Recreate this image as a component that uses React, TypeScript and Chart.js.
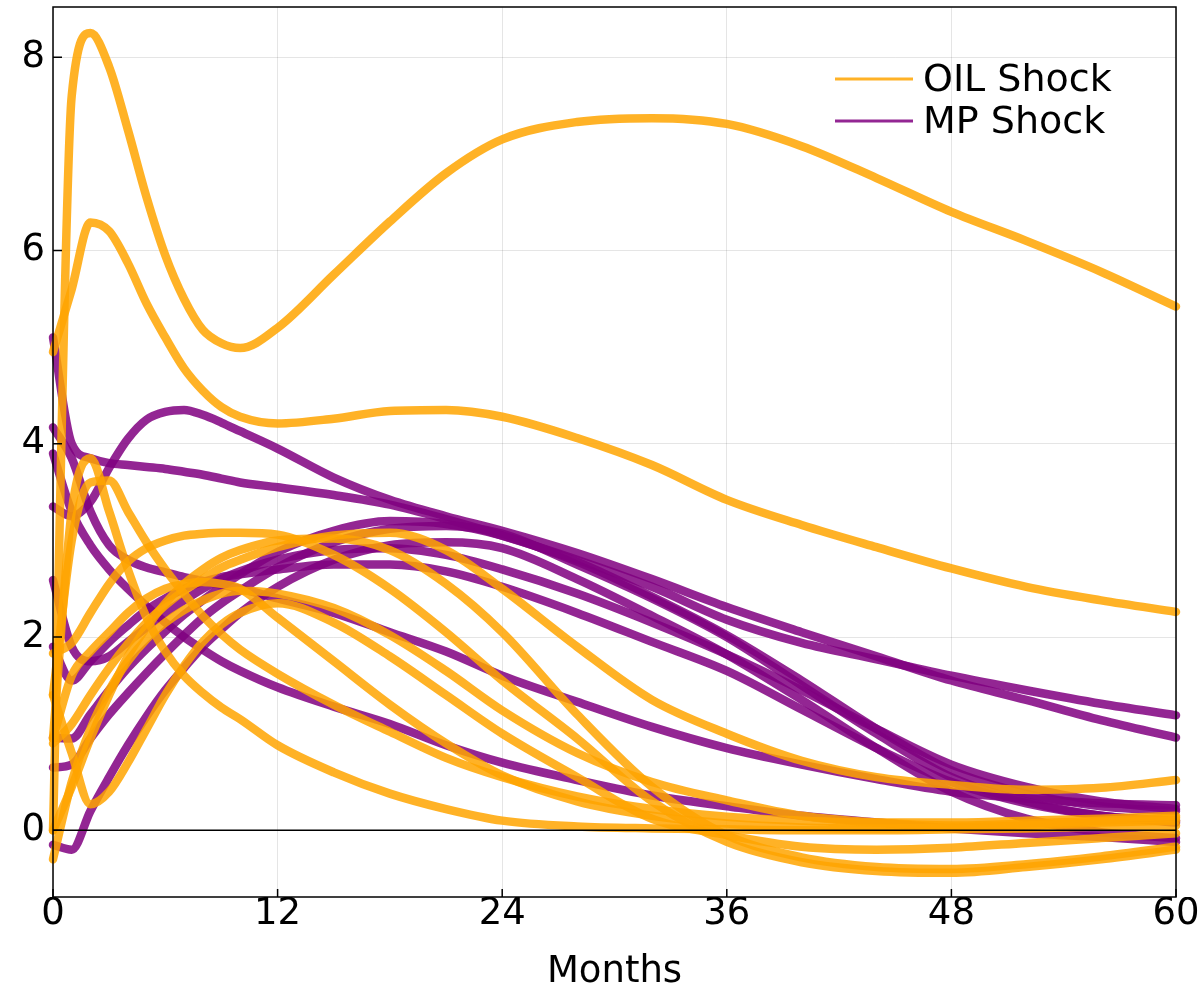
import { useEffect, useRef } from "react";
import { Chart, registerables } from "chart.js";

Chart.register(...registerables);

// Horizon (months) at which every response is given
const MONTHS = [0, 1, 2, 3, 4, 5, 6, 7, 8, 9, 10, 12, 15, 18, 21, 24, 28, 32, 36, 40, 44, 48, 52, 56, 60];
const X_TICKS = [0, 12, 24, 36, 48, 60];
const Y_TICKS = [0, 2, 4, 6, 8];
const Y_MIN = -0.69;
const Y_MAX = 8.52;

// OIL shock responses
const OIL_1 = [0, 7.6, 8.25, 7.9, 7.25, 6.55, 5.95, 5.5, 5.18, 5.04, 4.99, 5.2, 5.75, 6.3, 6.8, 7.15, 7.33, 7.37, 7.31, 7.08, 6.75, 6.4, 6.1, 5.78, 5.42];
const OIL_2 = [4.95, 5.6, 6.29, 6.2, 5.87, 5.45, 5.1, 4.78, 4.55, 4.38, 4.28, 4.21, 4.26, 4.34, 4.35, 4.28, 4.06, 3.78, 3.42, 3.16, 2.93, 2.71, 2.52, 2.38, 2.26];
const OIL_3 = [0.95, 3.3, 3.85, 3.3, 2.7, 2.2, 1.85, 1.6, 1.42, 1.27, 1.15, 0.88, 0.6, 0.38, 0.22, 0.1, 0.04, 0.02, 0.01, 0.0, 0.0, 0.01, 0.02, 0.04, 0.05];
const OIL_4 = [1.4, 3.0, 3.6, 3.62, 3.3, 2.98, 2.7, 2.45, 2.22, 2.03, 1.87, 1.62, 1.3, 1.02, 0.75, 0.55, 0.35, 0.22, 0.14, 0.1, 0.08, 0.08, 0.1, 0.12, 0.15];
const OIL_5 = [0.9, 1.1, 1.4, 1.68, 1.93, 2.15, 2.33, 2.48, 2.6, 2.72, 2.8, 2.93, 3.05, 3.08, 2.9, 2.5, 1.9, 1.35, 1.0, 0.72, 0.55, 0.47, 0.42, 0.44, 0.52];
const OIL_6 = [1.83, 1.94, 2.25, 2.55, 2.78, 2.92, 3.0, 3.05, 3.07, 3.08, 3.08, 3.06, 2.85, 2.5, 2.05, 1.55, 0.95, 0.3, -0.12, -0.33, -0.42, -0.44, -0.38, -0.3, -0.2];
const OIL_7 = [0.0, 0.45, 0.95, 1.4, 1.8, 2.1, 2.35, 2.55, 2.7, 2.82, 2.9, 3.0, 3.02, 2.9, 2.55, 2.05, 1.2, 0.45, -0.05, -0.28, -0.38, -0.4, -0.35, -0.27, -0.17];
const OIL_8 = [-0.3, 0.5, 1.05, 1.45, 1.75, 1.98, 2.15, 2.28, 2.38, 2.45, 2.48, 2.45, 2.3, 2.02, 1.65, 1.24, 0.8, 0.5, 0.31, 0.15, 0.08, 0.05, 0.07, 0.1, 0.13];
const OIL_9 = [1.4, 0.8, 0.27, 0.4, 0.7, 1.05, 1.4, 1.7, 1.95, 2.13, 2.25, 2.35, 2.15, 1.8, 1.4, 1.0, 0.55, 0.12, -0.05, -0.17, -0.2, -0.18, -0.13, -0.08, -0.03];
const OIL_10 = [0.95, 1.6, 1.85, 2.05, 2.25, 2.4, 2.5, 2.55, 2.57, 2.55, 2.5, 2.2, 1.75, 1.3, 0.9, 0.57, 0.3, 0.15, 0.07, 0.03, 0.02, 0.03, 0.05, 0.08, 0.1];

// MP shock responses
const MP_1 = [5.1, 4.0, 3.85, 3.8, 3.78, 3.76, 3.74, 3.71, 3.68, 3.64, 3.6, 3.55, 3.47, 3.37, 3.22, 3.05, 2.8, 2.52, 2.18, 1.94, 1.77, 1.6, 1.45, 1.31, 1.19];
const MP_2 = [4.17, 3.85, 3.3, 2.95, 2.8, 2.72, 2.67, 2.62, 2.58, 2.54, 2.5, 2.4, 2.25, 2.05, 1.85, 1.6, 1.33, 1.07, 0.85, 0.68, 0.53, 0.4, 0.33, 0.28, 0.26];
const MP_3 = [3.9, 3.3, 2.95, 2.7, 2.5, 2.32, 2.15, 2.0, 1.87, 1.75, 1.65, 1.48, 1.28, 1.1, 0.88, 0.7, 0.52, 0.36, 0.25, 0.15, 0.08, 0.02, -0.03, -0.07, -0.12];
const MP_4 = [3.35, 3.25, 3.4, 3.75, 4.05, 4.25, 4.33, 4.35, 4.3, 4.22, 4.13, 3.95, 3.65, 3.42, 3.25, 3.1, 2.87, 2.6, 2.31, 2.05, 1.8, 1.55, 1.35, 1.14, 0.96];
const MP_5 = [2.59, 1.9, 1.75, 1.8, 1.95, 2.1, 2.25, 2.38, 2.5, 2.6, 2.68, 2.8, 2.9, 2.92, 2.85, 2.7, 2.45, 2.15, 1.82, 1.45, 1.05, 0.68, 0.45, 0.3, 0.22];
const MP_6 = [1.9, 1.55, 1.75, 1.95, 2.12, 2.28, 2.4, 2.5, 2.57, 2.62, 2.65, 2.7, 2.75, 2.75, 2.68, 2.52, 2.25, 1.95, 1.65, 1.25, 0.85, 0.5, 0.28, 0.15, 0.08];
const MP_7 = [0.96, 0.95, 1.2, 1.45, 1.68, 1.88, 2.06, 2.23, 2.38, 2.52, 2.65, 2.88, 3.1, 3.2, 3.17, 3.05, 2.78, 2.42, 2.02, 1.55, 1.05, 0.62, 0.38, 0.25, 0.2];
const MP_8 = [0.65, 0.68, 0.95, 1.2, 1.42, 1.63, 1.83, 2.02, 2.2, 2.35, 2.48, 2.72, 2.98, 3.12, 3.15, 3.07, 2.75, 2.4, 2.0, 1.5, 1.0, 0.55, 0.3, 0.15, 0.1];
const MP_9 = [-0.15, -0.2, 0.2, 0.55, 0.88, 1.18, 1.45, 1.68, 1.9, 2.08, 2.25, 2.52, 2.8, 2.95, 2.98, 2.92, 2.6, 2.22, 1.82, 1.35, 0.85, 0.4, 0.12, -0.02, -0.08];

const OIL_SERIES = [OIL_1, OIL_2, OIL_3, OIL_4, OIL_5, OIL_6, OIL_7, OIL_8, OIL_9, OIL_10];
const MP_SERIES = [MP_1, MP_2, MP_3, MP_4, MP_5, MP_6, MP_7, MP_8, MP_9];
const ZERO_LINE = [0, 0];
const ZERO_X = [0, 60];

const OIL_LABEL = "OIL Shock";
const MP_LABEL = "MP Shock";
const X_TITLE = "Months";

const ORANGE = "rgba(255,165,0,0.85)";
const PURPLE = "rgba(128,0,128,0.85)";
const FONT = '"DejaVu Sans", "Liberation Sans", sans-serif';

const legendPlugin = {
  id: "insideLegend",
  afterDraw(chart: any) {
    const { ctx, chartArea } = chart;
    const items = [
      { label: OIL_LABEL, color: ORANGE },
      { label: MP_LABEL, color: PURPLE },
    ];
    ctx.save();
    ctx.font = `38px ${FONT}`;
    ctx.textBaseline = "middle";
    ctx.textAlign = "left";
    items.forEach((it, i) => {
      const y = chartArea.top + 72 + i * 42;
      ctx.strokeStyle = it.color;
      ctx.lineWidth = 3;
      ctx.beginPath();
      ctx.moveTo(chartArea.right - 341, y);
      ctx.lineTo(chartArea.right - 263, y);
      ctx.stroke();
      ctx.fillStyle = "#000";
      ctx.fillText(it.label, chartArea.right - 253, y + 2);
    });
    ctx.restore();
  },
};

const framePlugin = {
  id: "frame",
  afterDatasetsDraw(chart: any) {
    const { ctx, chartArea, scales } = chart;
    ctx.save();
    ctx.strokeStyle = "#000";
    ctx.lineWidth = 1.5;
    ctx.strokeRect(chartArea.left, chartArea.top, chartArea.right - chartArea.left, chartArea.bottom - chartArea.top);
    ctx.beginPath();
    Y_TICKS.forEach((v) => {
      const y = scales.y.getPixelForValue(v);
      ctx.moveTo(chartArea.left, y);
      ctx.lineTo(chartArea.left + 9, y);
    });
    X_TICKS.forEach((v) => {
      const x = scales.x.getPixelForValue(v);
      ctx.moveTo(x, chartArea.bottom);
      ctx.lineTo(x, chartArea.bottom - 8);
    });
    ctx.stroke();
    ctx.restore();
  },
};

function toPoints(arr: number[]) {
  return MONTHS.map((m, i) => ({ x: m, y: arr[i] }));
}

export default function App() {
  const ref = useRef<HTMLCanvasElement | null>(null);

  useEffect(() => {
    if (!ref.current) return;
    const lineStyle = {
      borderWidth: 8.5,
      pointRadius: 0,
      pointHoverRadius: 0,
      fill: false,
      cubicInterpolationMode: "monotone" as const,
      tension: 0.4,
      borderCapStyle: "round" as const,
      borderJoinStyle: "round" as const,
      clip: false as const,
    };
    const datasets: any[] = [
      {
        label: "zero",
        data: ZERO_X.map((x, i) => ({ x, y: ZERO_LINE[i] })),
        borderColor: "#000",
        borderWidth: 1.5,
        pointRadius: 0,
        order: -1,
        clip: false,
      },
      ...OIL_SERIES.map((s, i) => ({
        ...lineStyle,
        label: i === 0 ? OIL_LABEL : "",
        data: toPoints(s),
        borderColor: ORANGE,
        order: 0,
      })),
      ...MP_SERIES.map((s, i) => ({
        ...lineStyle,
        label: i === 0 ? MP_LABEL : "",
        data: toPoints(s),
        borderColor: PURPLE,
        order: 1,
      })),
    ];

    const chart = new Chart(ref.current, {
      type: "line",
      data: { datasets },
      plugins: [framePlugin, legendPlugin],
      options: {
        animation: false,
        responsive: false,
        maintainAspectRatio: false,
        layout: { padding: { top: 7, right: 27, left: 0, bottom: 0 } },
        plugins: {
          legend: { display: false },
          tooltip: { enabled: false },
        },
        scales: {
          x: {
            type: "linear",
            min: 0,
            max: 60,
            afterBuildTicks: (scale: any) => {
              scale.ticks = X_TICKS.map((v) => ({ value: v }));
            },
            afterFit: (scale: any) => {
              scale.height = 100;
              scale.paddingLeft = 0;
              scale.paddingRight = 0;
            },
            ticks: {
              font: { family: FONT, size: 37 },
              color: "#000",
              padding: -5,
              maxRotation: 0,
              autoSkip: false,
            },
            grid: { color: "rgba(0,0,0,0.1)", lineWidth: 1, drawTicks: false },
            border: { display: false },
            title: {
              display: true,
              text: X_TITLE,
              font: { family: FONT, size: 37 },
              color: "#000",
              padding: { top: 0, bottom: 2 },
            },
          },
          y: {
            type: "linear",
            min: Y_MIN,
            max: Y_MAX,
            afterBuildTicks: (scale: any) => {
              scale.ticks = Y_TICKS.map((v) => ({ value: v }));
            },
            afterFit: (scale: any) => {
              scale.width = 53;
              scale.paddingTop = 0;
              scale.paddingBottom = 0;
            },
            ticks: {
              font: { family: FONT, size: 37 },
              color: "#000",
              padding: 8,
            },
            grid: { color: "rgba(0,0,0,0.1)", lineWidth: 1, drawTicks: false },
            border: { display: false },
          },
        },
      },
    } as any);
    return () => chart.destroy();
  }, []);

  return (
    <div style={{ position: "absolute", left: 0, top: 0, width: 1203, height: 997, background: "#fff" }}>
      <canvas ref={ref} width={1203} height={997} style={{ width: 1203, height: 997, display: "block" }} />
    </div>
  );
}
